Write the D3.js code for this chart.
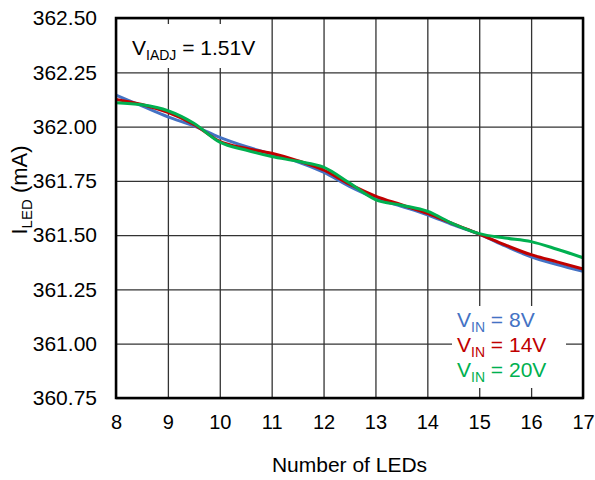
<!DOCTYPE html>
<html>
<head>
<meta charset="utf-8">
<script src="https://cdn.jsdelivr.net/npm/d3@7"></script>
<style>
  body { margin: 0; background: #fff; }
  text { font-family: Arial, "Liberation Sans", sans-serif; }
</style>
</head>
<body>
<svg id="chart" width="595" height="480"></svg>
<script>
// number of LEDs (half steps so the curve shape follows the picture)
const leds = [8, 8.5, 9, 9.5, 10, 10.5, 11, 11.5, 12, 12.5, 13, 13.5, 14, 14.5, 15, 15.5, 16, 16.5, 17];

// ILED (mA) for each input voltage
const vin8 = [362.145, 362.095, 362.045, 362.003, 361.95, 361.908, 361.873, 361.838, 361.79, 361.725, 361.671, 361.633, 361.594, 361.547, 361.505, 361.45, 361.40, 361.365, 361.333];
const vin14 = [362.125, 362.102, 362.065, 362.01, 361.932, 361.9, 361.877, 361.843, 361.80, 361.735, 361.68, 361.64, 361.60, 361.552, 361.505, 361.455, 361.41, 361.377, 361.344];
const vin20 = [362.11, 362.1, 362.073, 362.015, 361.928, 361.892, 361.862, 361.84, 361.813, 361.74, 361.664, 361.638, 361.61, 361.552, 361.507, 361.487, 361.47, 361.435, 361.396];

const xTicks = [8, 9, 10, 11, 12, 13, 14, 15, 16, 17];
const yTicks = [360.75, 361.00, 361.25, 361.50, 361.75, 362.00, 362.25, 362.50];

const seriesNames = ["8V", "14V", "20V"];
const seriesColors = ["#4472C4", "#C00000", "#00B050"];

const width = 595;
const height = 480;
const margins = { top: 18, right: 12, bottom: 82, left: 116 };
const innerWidth = width - margins.left - margins.right;
const innerHeight = height - margins.top - margins.bottom;

const svg = d3.select("#chart");
const g = svg.append("g").attr("transform", `translate(${margins.left},${margins.top})`);

const x = d3.scaleLinear().domain([8, 17]).range([0, innerWidth]);
const y = d3.scaleLinear().domain([360.75, 362.5]).range([innerHeight, 0]);

//* grid
g.append("g")
  .call(d3.axisBottom(x).tickValues(xTicks).tickSize(innerHeight).tickFormat(""))
  .call(a => a.select(".domain").remove())
  .call(a => a.selectAll("text").remove())
  .selectAll("line").attr("stroke", "#333").attr("stroke-width", 1.3);

g.append("g")
  .call(d3.axisLeft(y).tickValues(yTicks).tickSize(-innerWidth).tickFormat(""))
  .call(a => a.select(".domain").remove())
  .call(a => a.selectAll("text").remove())
  .selectAll("line").attr("stroke", "#333").attr("stroke-width", 1.3);

//* tick labels
g.append("g")
  .attr("transform", `translate(0,${innerHeight})`)
  .call(d3.axisBottom(x).tickValues(xTicks).tickSize(0).tickPadding(17).tickFormat(d3.format("d")))
  .call(a => a.select(".domain").remove())
  .selectAll("text").attr("font-size", 20).attr("fill", "#000");

g.append("g")
  .call(d3.axisLeft(y).tickValues(yTicks).tickSize(0).tickPadding(19).tickFormat(d3.format(".2f")))
  .call(a => a.select(".domain").remove())
  .selectAll("text").attr("font-size", 21).attr("fill", "#000");

//* lines
const series = [vin8, vin14, vin20];
const line = d3.line()
  .x((d, i) => x(leds[i]))
  .y(d => y(d))
  .curve(d3.curveMonotoneX);

g.selectAll(".series")
  .data(series)
  .join("path")
  .attr("class", "series")
  .attr("fill", "none")
  .attr("stroke", (d, i) => seriesColors[i])
  .attr("stroke-width", 3)
  .attr("d", line);

//* annotation box
g.append("rect")
  .attr("x", 8).attr("y", 6).attr("width", 128).attr("height", 44)
  .attr("fill", "#fff");
const ann = g.append("text")
  .attr("x", 16).attr("y", 37)
  .attr("font-size", 21).attr("fill", "#000");
ann.append("tspan").text("V");
ann.append("tspan").attr("font-size", 14).attr("dy", 5).text("IADJ");
ann.append("tspan").attr("dy", -5).text(" = 1.51V");

//* legend
g.append("rect")
  .attr("x", 336).attr("y", 288).attr("width", 114).attr("height", 82)
  .attr("fill", "#fff");
seriesNames.forEach((name, i) => {
  const t = g.append("text")
    .attr("x", 341).attr("y", 309 + i * 25)
    .attr("font-size", 21).attr("fill", seriesColors[i]);
  t.append("tspan").text("V");
  t.append("tspan").attr("font-size", 14).attr("dy", 5).text("IN");
  t.append("tspan").attr("dy", -5).text(" = " + name);
});

//* frame
g.append("rect")
  .attr("width", innerWidth).attr("height", innerHeight)
  .attr("fill", "none").attr("stroke", "#000").attr("stroke-width", 2.5);

//* axis titles
svg.append("text")
  .attr("x", margins.left + innerWidth / 2).attr("y", 472)
  .attr("text-anchor", "middle").attr("font-size", 21)
  .text("Number of LEDs");

const yt = svg.append("text")
  .attr("transform", `translate(27,${190}) rotate(-90)`)
  .attr("text-anchor", "middle").attr("font-size", 22);
yt.append("tspan").text("I");
yt.append("tspan").attr("font-size", 15).attr("dy", 5).text("LED");
yt.append("tspan").attr("dy", -5).text(" (mA)");
</script>
</body>
</html>
